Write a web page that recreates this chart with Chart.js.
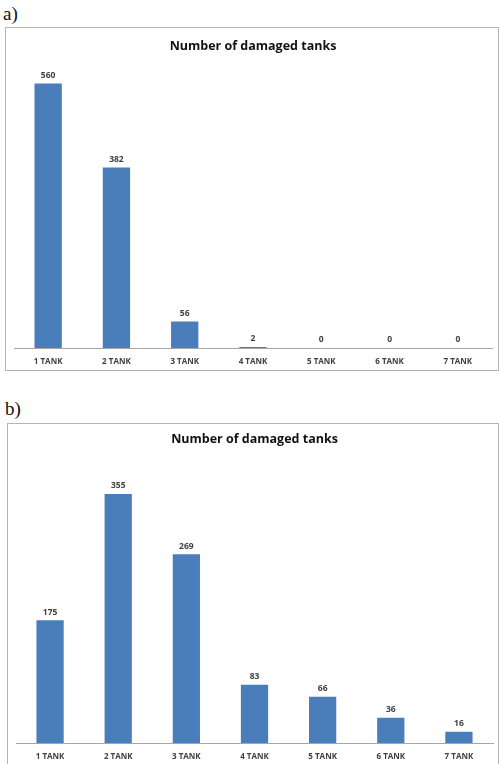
<!DOCTYPE html>
<html>
<head>
<meta charset="utf-8">
<script src="https://cdn.jsdelivr.net/npm/chart.js@4.4.0/dist/chart.umd.min.js"></script>
<style>
  body { margin: 0; background: #fff; width: 499px; height: 764px; position: relative; overflow: hidden; }
  .tag { position: absolute; font-family: "Liberation Serif", "DejaVu Serif", serif; font-size: 19px; color: #111; }
  .box { position: absolute; border: 1px solid #b4b4b4; box-sizing: border-box; }
  canvas { position: absolute; }
</style>
</head>
<body>
<div class="tag" style="left:3px; top:3px;">a)</div>
<div class="box" style="left:5px; top:27px; width:494px; height:344px;"></div>
<canvas id="chartA" style="left:6px; top:28px;" width="491" height="341"></canvas>

<div class="tag" style="left:5px; top:398px;">b)</div>
<div class="box" style="left:7px; top:423px; width:492px; height:350px;"></div>
<canvas id="chartB" style="left:8px; top:424px;" width="489" height="340"></canvas>

<script>
const categories = ["1 TANK", "2 TANK", "3 TANK", "4 TANK", "5 TANK", "6 TANK", "7 TANK"];
const damagedA = [560, 382, 56, 2, 0, 0, 0];
const damagedB = [175, 355, 269, 83, 66, 36, 16];
const chartTitle = "Number of damaged tanks";

// ================= VALUE LABELS ABOVE BARS =================
const valueLabels = {
  id: "valueLabels",
  afterDatasetsDraw(chart) {
    const ctx = chart.ctx;
    const meta = chart.getDatasetMeta(0);
    const values = chart.data.datasets[0].data;
    ctx.save();
    ctx.font = "bold 8.5px 'Open Sans', sans-serif";
    ctx.fillStyle = "#404040";
    ctx.textAlign = "center";
    ctx.textBaseline = "middle";
    meta.data.forEach((bar, i) => {
      ctx.fillText(String(values[i]), bar.x, bar.y - 8);
    });
    ctx.restore();
  }
};

function makeChart(id, values, yMax, padRight, titlePad) {
  const ctx = document.getElementById(id);
  return new Chart(ctx, {
    type: "bar",
    data: {
      labels: categories,
      datasets: [
        {
          data: values,
          backgroundColor: "#4a7ebb",
          borderWidth: 0,
          barPercentage: 0.4,
          categoryPercentage: 1.0
        }
      ]
    },
    options: {
      responsive: false,
      animation: false,
      layout: { padding: { left: 8, right: padRight, top: 3, bottom: 0 } },
      plugins: {
        legend: { display: false },
        tooltip: { enabled: false },
        title: {
          display: true,
          text: chartTitle,
          color: "#111",
          font: { family: "'Open Sans', sans-serif", size: 12.5, weight: "bold", lineHeight: 1 },
          padding: titlePad
        }
      },
      scales: {
        x: {
          grid: { display: false, drawTicks: false },
          border: { display: true, color: "#a6a6a6", width: 1 },
          ticks: {
            color: "#404040",
            font: { family: "'Open Sans', sans-serif", size: 8, weight: "bold" },
            padding: 9,
            maxRotation: 0
          },
          afterFit(scale) { scale.height = 21; }
        },
        y: {
          display: false,
          min: 0,
          max: yMax
        }
      }
    },
    plugins: [valueLabels]
  });
}

makeChart("chartA", damagedA, 600, 5, { top: 9, bottom: 12 });
makeChart("chartB", damagedB, 400, 4, { top: 6.5, bottom: 16.5 });
</script>
</body>
</html>
